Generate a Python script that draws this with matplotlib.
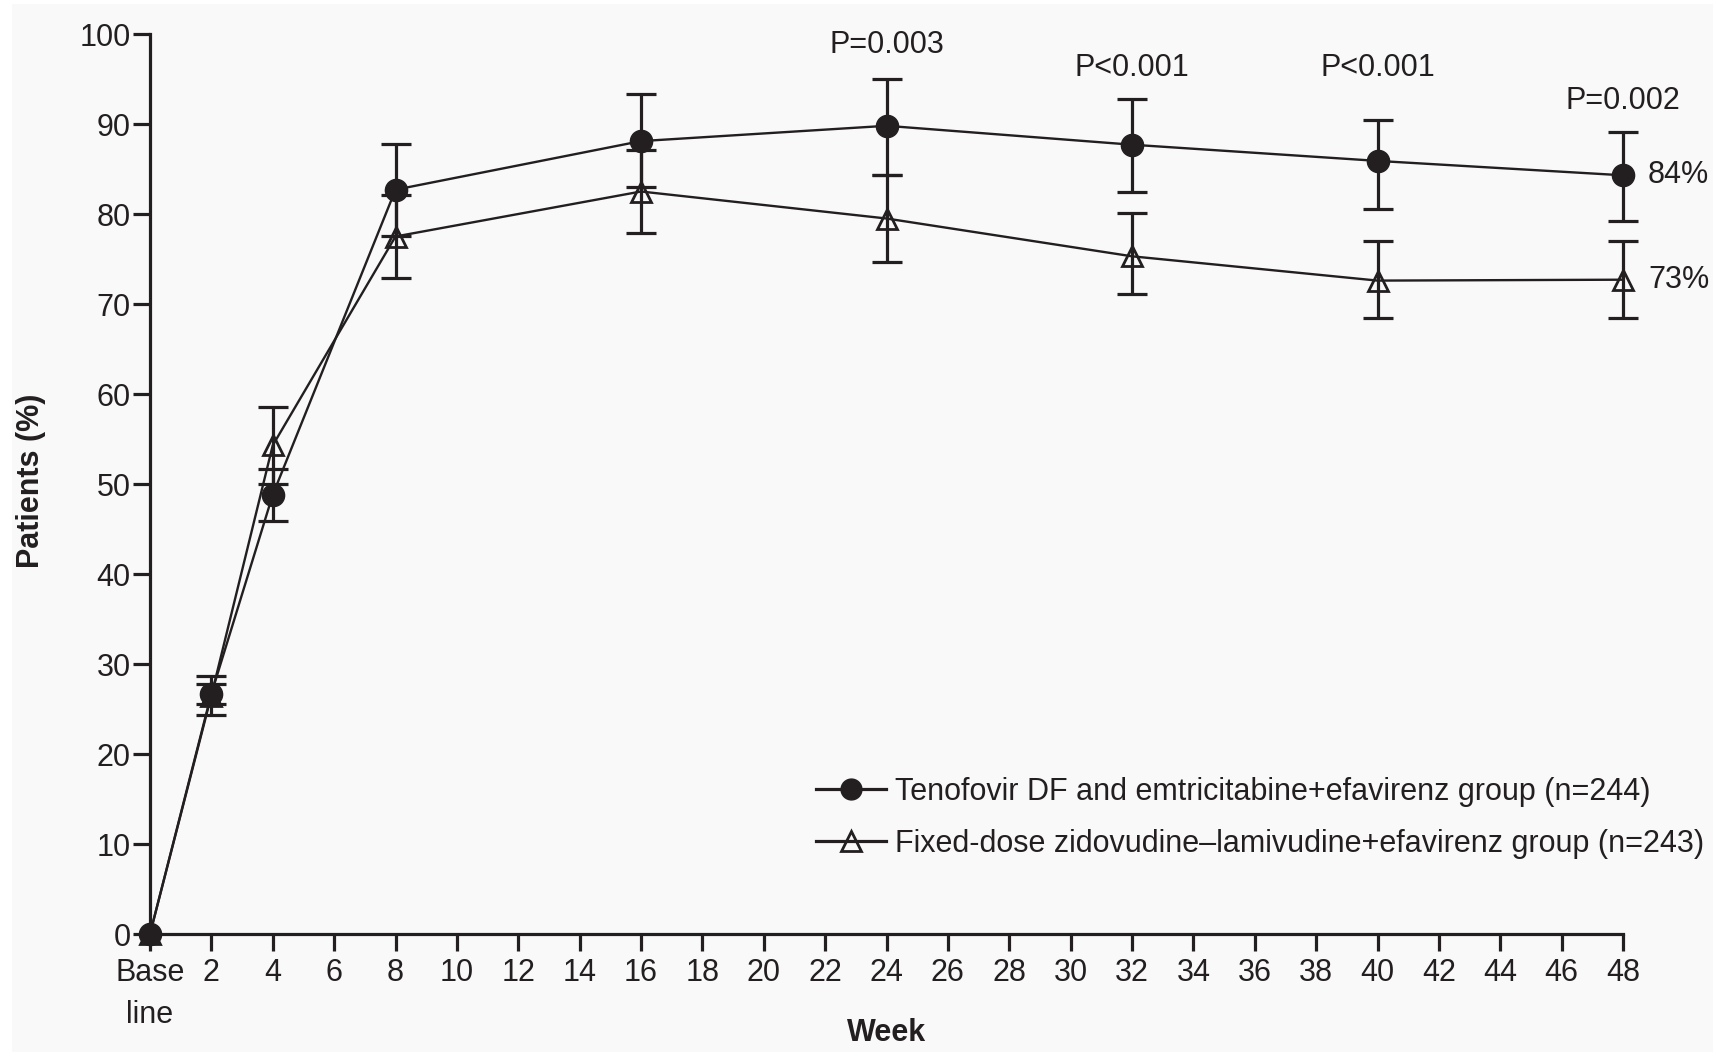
import matplotlib
matplotlib.use("Agg")
import matplotlib.pyplot as plt
from matplotlib.patches import Rectangle
from matplotlib.lines import Line2D

plt.rcParams["font.family"] = ["Liberation Sans", "DejaVu Sans"]

INK = "#231f20"
PANEL = "#f9f9f9"

# Weeks of follow-up (0 = baseline)
weeks = [0, 2, 4, 8, 16, 24, 32, 40, 48]

# Tenofovir DF + emtricitabine + efavirenz: % of patients, with 95% CI bounds
tdf = [0, 26.7, 48.8, 82.7, 88.1, 89.8, 87.7, 85.9, 84.3]
tdf_lo = [0, 25.6, 45.9, 77.6, 83.0, 84.3, 82.4, 80.6, 79.2]
tdf_hi = [0, 27.8, 51.7, 87.8, 93.3, 95.0, 92.8, 90.4, 89.1]

# Fixed-dose zidovudine-lamivudine + efavirenz
zdv = [0, 26.5, 54.3, 77.5, 82.5, 79.5, 75.3, 72.6, 72.7]
zdv_lo = [0, 24.3, 50.0, 72.9, 77.9, 74.7, 71.1, 68.5, 68.5]
zdv_hi = [0, 28.7, 58.6, 82.1, 87.1, 84.3, 80.1, 77.0, 77.0]

# P values shown above selected weeks
p_weeks = [24, 32, 40, 48]
p_texts = ["P=0.003", "P<0.001", "P<0.001", "P=0.002"]
p_ypos = [98.8, 96.2, 96.2, 92.6]

x_ticks = list(range(0, 49, 2))
x_ticklabels = ["Base\nline"] + [str(w) for w in range(2, 49, 2)]
y_ticks = list(range(0, 101, 10))

legend_labels = [
    "Tenofovir DF and emtricitabine+efavirenz group (n=244)",
    "Fixed-dose zidovudine\u2013lamivudine+efavirenz group (n=243)",
]

W, H = 1713, 1056
fig = plt.figure(figsize=(W / 100, H / 100), dpi=100, facecolor="white")
fig.patches.append(Rectangle((12 / W, 4 / H), 1 - 12 / W, 1 - 8 / H,
                             transform=fig.transFigure, facecolor=PANEL,
                             edgecolor="none", zorder=-10))

ax = fig.add_axes([150 / W, 1 - 934 / H, (1623 - 150) / W, (934 - 34) / H])
ax.set_facecolor("none")
ax.set_xlim(0, 48)
ax.set_ylim(0, 100)

for side in ("top", "right"):
    ax.spines[side].set_visible(False)
for side in ("left", "bottom"):
    ax.spines[side].set_color(INK)
    ax.spines[side].set_linewidth(2.3)

FS = 22
ax.set_xticks(x_ticks)
ax.set_xticklabels(x_ticklabels, fontsize=FS, color=INK, linespacing=1.55)
ax.set_yticks(y_ticks)
ax.set_yticklabels([str(v) for v in y_ticks], fontsize=FS, color=INK)
ax.tick_params(axis="both", direction="out", length=12.5, width=2.3, color=INK)
ax.tick_params(axis="x", pad=4.5)
ax.tick_params(axis="y", pad=1.5)


# Confidence intervals (baseline has none)
def ci(vals, lo, hi):
    return [[v - l for v, l in zip(vals[1:], lo[1:])],
            [h - v for v, h in zip(vals[1:], hi[1:])]]


for vals, lo, hi in ((tdf, tdf_lo, tdf_hi), (zdv, zdv_lo, zdv_hi)):
    cont = ax.errorbar(weeks[1:], vals[1:], yerr=ci(vals, lo, hi), fmt="none",
                       ecolor=INK, elinewidth=2.3, capsize=11, capthick=2.3,
                       zorder=2)
    for child in cont.get_children():
        child.set_clip_on(False)

ax.plot(weeks, zdv, color=INK, lw=1.7, marker="^", ms=15, mfc="none",
        mec=INK, mew=2.0, clip_on=False, zorder=3)
ax.plot(weeks, tdf, color=INK, lw=1.7, marker="o", ms=16, mfc=INK,
        mec=INK, clip_on=False, zorder=4)

for w, s, y in zip(p_weeks, p_texts, p_ypos):
    ax.text(w, y, s, ha="center", va="center", fontsize=FS, color=INK)

for v in (tdf[-1], zdv[-1]):
    ax.annotate(f"{v:.0f}%", xy=(weeks[-1], v), xytext=(18, 0),
                textcoords="offset points", ha="left", va="center",
                fontsize=FS, color=INK, annotation_clip=False)

fig.text(31 / W, 1 - 481 / H, "Patients (%)", rotation=90, ha="center",
         va="center", fontsize=FS, fontweight="bold", color=INK)
fig.text(887 / W, 1 - 1033 / H, "Week", ha="center", va="center",
         fontsize=FS, fontweight="bold", color=INK)

handles = [
    Line2D([], [], color=INK, lw=2.3, marker="o", ms=15, mfc=INK, mec=INK),
    Line2D([], [], color=INK, lw=2.3, marker="^", ms=14, mfc="none",
           mec=INK, mew=2.0),
]
leg = ax.legend(handles, legend_labels, loc="upper left",
                bbox_to_anchor=(816 / W, 1 - 777 / H),
                bbox_transform=fig.transFigure, frameon=False, fontsize=FS,
                handlelength=2.3, handletextpad=0.3, labelspacing=0.72,
                borderpad=0, borderaxespad=0)
for t in leg.get_texts():
    t.set_color(INK)

fig.savefig("out.png", dpi=100, facecolor=fig.get_facecolor())
